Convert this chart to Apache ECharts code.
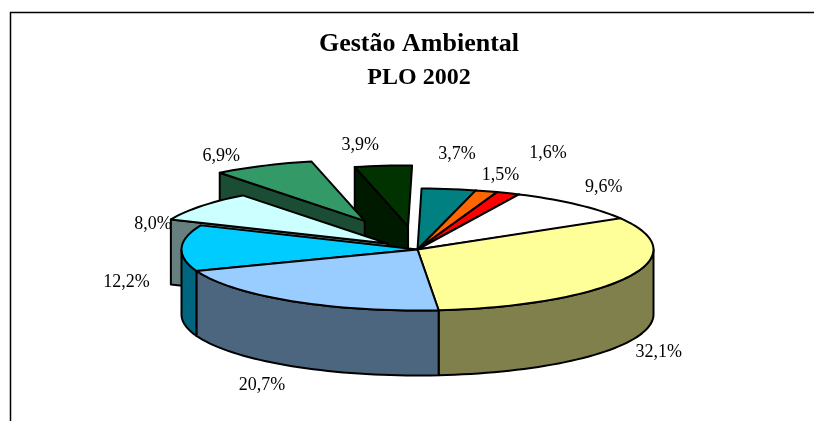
<!DOCTYPE html>
<html>
<head>
<meta charset="utf-8">
<style>
  html, body { margin: 0; padding: 0; background: #fff; }
  #content { width: 814px; height: 421px; }
</style>
<script src="https://cdn.jsdelivr.net/npm/echarts@6/dist/echarts.min.js"></script>
</head>
<body>
<div id="content"></div>
<script>
// valores em %, no sentido horario a partir da fatia amarela
const values = [32.1, 20.7, 12.2, 8.0, 6.9, 3.9, 3.7, 1.5, 1.6, 9.6];
const topColors = ["#FFFF99", "#99CCFF", "#00CCFF", "#CCFFFF", "#339966", "#003300", "#008080", "#FF6600", "#FF0000", "#FFFFFF"];
const wallColors = ["#80804D", "#4D6680", "#006680", "#668080", "#1A4D33", "#001A00", "#004040", "#803300", "#800000", "#808080"];
const explodeBy = [0, 0, 0, 0.16, 0.52, 0.38, 0, 0, 0, 0];
// deslocamento de cada rotulo a partir do meio do arco da fatia
const labelNudge = [[31, 75], [-30, 84], [-55, 34], [-48, 18], [-42, -10], [-23, -21], [8, -35], [14, -16], [40, -40], [26, -17]];

const cx = 417.5, cy = 249.5, rx = 236, ry = 61, depth = 65;
const startAngle = -30.7;

let rad = (d) => (d * Math.PI) / 180;
let onRim = (a, off) => [
  cx + off[0] + rx * Math.cos(rad(a)),
  cy + off[1] + ry * Math.sin(rad(a)),
];
let arc = (a0, a1, off) => {
  let pts = [];
  let n = Math.max(2, Math.ceil((a1 - a0) / 2));
  for (let i = 0; i <= n; i++) pts.push(onRim(a0 + ((a1 - a0) * i) / n, off));
  return pts;
};
let down = (p) => [p[0], p[1] + depth];

// monta as fatias e ordena de tras para a frente
let acc = startAngle;
const slices = values.map((v, i) => {
  let a0 = acc;
  let a1 = acc + v * 3.6;
  acc = a1;
  let mid = (a0 + a1) / 2;
  let e = explodeBy[i];
  let off = [e * rx * Math.cos(rad(mid)), e * ry * Math.sin(rad(mid))];
  return { i, a0, a1, mid, off, edgeY: onRim(mid, off)[1] };
});
const drawOrder = slices.slice().sort((a, b) => a.edgeY - b.edgeY);

let face = (points, fill) => ({
  type: "polygon",
  shape: { points },
  style: { fill, stroke: "#000", lineWidth: 2, lineJoin: "round" },
});

let renderSlice = (params) => {
  let s = drawOrder[params.dataIndex];
  let apex = [cx + s.off[0], cy + s.off[1]];
  let wall = wallColors[s.i];
  let children = [];

  // paredes radiais, so as que ficam viradas para quem olha
  if (Math.cos(rad(s.a0)) < -0.1) {
    let p = onRim(s.a0, s.off);
    children.push(face([p, apex, down(apex), down(p)], wall));
  }
  if (Math.cos(rad(s.a1)) > 0.1) {
    let p = onRim(s.a1, s.off);
    children.push(face([p, apex, down(apex), down(p)], wall));
  }
  // parede externa, metade da frente da elipse
  let f0 = Math.max(s.a0, 0);
  let f1 = Math.min(s.a1, 180);
  if (f1 > f0) {
    let rim = arc(f0, f1, s.off);
    children.push(face(rim.concat(rim.map(down).reverse()), wall));
  }
  // tampa
  children.push(face([apex].concat(arc(s.a0, s.a1, s.off)), topColors[s.i]));

  let anchor = onRim(s.mid, s.off);
  children.push({
    type: "text",
    z2: 100,
    style: {
      x: anchor[0] + labelNudge[s.i][0],
      y: anchor[1] + labelNudge[s.i][1],
      text: values[s.i].toFixed(1).replace(".", ",") + "%",
      fill: "#000",
      font: '18px "Liberation Serif"',
      align: "center",
      verticalAlign: "middle",
    },
  });
  return { type: "group", children };
};

let myChart = echarts.init(document.getElementById("content"));
myChart.setOption({
  animation: false,
  backgroundColor: "#fff",
  title: [
    {
      text: "Gestão Ambiental",
      left: 414,
      top: 26,
      textAlign: "center",
      textStyle: { fontFamily: "Liberation Serif", fontWeight: "bold", fontSize: 26, color: "#000" },
    },
    {
      text: "PLO 2002",
      left: 414,
      top: 61,
      textAlign: "center",
      textStyle: { fontFamily: "Liberation Serif", fontWeight: "bold", fontSize: 24, color: "#000" },
    },
  ],
  graphic: [
    {
      type: "polyline",
      shape: { points: [[10.5, 421], [10.5, 12.5], [814, 12.5]] },
      style: { stroke: "#000", lineWidth: 1.5, fill: "none" },
    },
  ],
  series: [
    {
      type: "custom",
      coordinateSystem: "none",
      data: drawOrder.map((s) => values[s.i]),
      renderItem: renderSlice,
      silent: true,
    },
  ],
});
</script>
</body>
</html>
